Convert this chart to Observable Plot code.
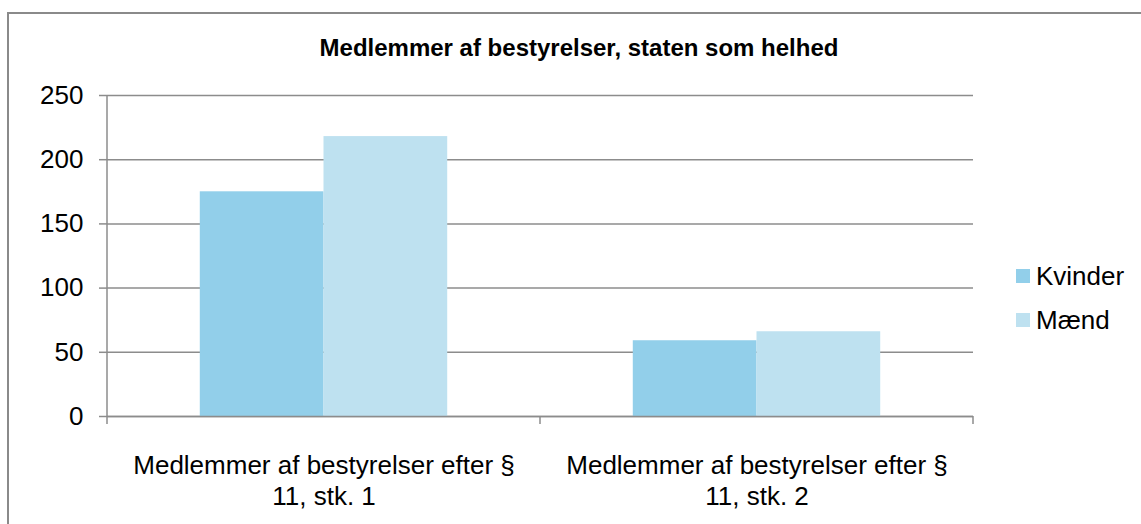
<!DOCTYPE html>
<html>
<head>
<meta charset="utf-8">
<script src="https://cdn.jsdelivr.net/npm/d3@7"></script>
<script src="https://cdn.jsdelivr.net/npm/@observablehq/plot@0.6"></script>
<style>
  html, body { margin: 0; padding: 0; background: #fff; }
  #wrap { position: relative; width: 1141px; height: 524px; overflow: hidden; font-family: "Liberation Sans", Arial, sans-serif; color: #000; }
  #frame { position: absolute; left: 7px; top: 12px; width: 1300px; height: 700px; border: 2px solid #8a8a8a; box-sizing: border-box; }
  #title { position: absolute; left: 0; width: 1158px; top: 33px; text-align: center; font-weight: bold; font-size: 24px; line-height: 30px; }
  #chart { position: absolute; left: 0; top: 0; }
  .legend { position: absolute; left: 1016px; font-size: 26px; line-height: 30px; display: flex; align-items: center; }
  .legend span.sw { display: inline-block; width: 14px; height: 14px; margin-right: 6px; }
</style>
</head>
<body>
<div id="wrap">
  <div id="frame"></div>
  <div id="chart"></div>
  <div id="title"></div>
  <div id="legend"></div>
</div>
<script>
const title = "Medlemmer af bestyrelser, staten som helhed";
const categories = [
  "Medlemmer af bestyrelser efter § 11, stk. 1",
  "Medlemmer af bestyrelser efter § 11, stk. 2"
];
const series = ["Kvinder", "Mænd"];
const kvinder = [175, 59];
const maend = [218, 66];
const yTicks = [0, 50, 100, 150, 200, 250];
const colors = ["#92CFEA", "#BEE1F0"];
const gridColor = "#8c8c8c";

const data = categories.flatMap((c, i) => [
  {cat: c, sex: series[0], value: kvinder[i]},
  {cat: c, sex: series[1], value: maend[i]}
]);

const chart = Plot.plot({
  width: 1141,
  height: 524,
  marginLeft: 107,
  marginRight: 168,
  marginTop: 95,
  marginBottom: 108,
  style: {fontFamily: '"Liberation Sans", Arial, sans-serif', fontSize: "26px", color: "#000", background: "transparent", overflow: "visible"},
  fx: {domain: categories, padding: 0, label: null},
  x: {domain: series, paddingInner: 0, paddingOuter: 0.75, round: false, axis: null},
  y: {domain: [0, 250], ticks: yTicks, label: null},
  color: {domain: series, range: colors},
  marks: [
    Plot.gridY(yTicks, {stroke: gridColor, strokeOpacity: 1, strokeWidth: 1.5}),
    Plot.barY(data, {fx: "cat", x: "sex", y: "value", fill: "sex"}),
    Plot.ruleY([0], {stroke: gridColor, strokeWidth: 1.5}),
    Plot.axisY(yTicks, {tickSize: 8, tickPadding: 16, fontSize: 26, label: null, stroke: gridColor, strokeWidth: 1.5, fill: "#000"}),
    Plot.axisFx({anchor: "bottom", tickSize: 0, tickPadding: 36, fontSize: 26, lineHeight: 1.17, label: null, fill: "#000",
      tickFormat: d => d.replace("§ ", "§\n")})
  ]
});
document.getElementById("chart").appendChild(chart);

// y axis line and category boundary ticks, positioned from the plot's own scales
const fx = chart.scale("fx");
const y = chart.scale("y");
const svg = d3.select(chart);
const g = svg.append("g").attr("stroke", gridColor).attr("stroke-width", 1.5);
const left = fx.apply(categories[0]);
const y0 = y.apply(0), yTop = y.apply(250);
g.append("line").attr("x1", left).attr("x2", left).attr("y1", yTop).attr("y2", y0 + 8);
categories.forEach(c => {
  const xr = fx.apply(c) + fx.bandwidth;
  g.append("line").attr("x1", xr).attr("x2", xr).attr("y1", y0).attr("y2", y0 + 8);
});

document.getElementById("title").textContent = title;
const legend = document.getElementById("legend");
series.forEach((s, i) => {
  const row = document.createElement("div");
  row.className = "legend";
  row.style.top = (261 + i * 44) + "px";
  row.innerHTML = `<span class="sw" style="background:${colors[i]}"></span><span>${s}</span>`;
  legend.appendChild(row);
});
</script>
</body>
</html>
